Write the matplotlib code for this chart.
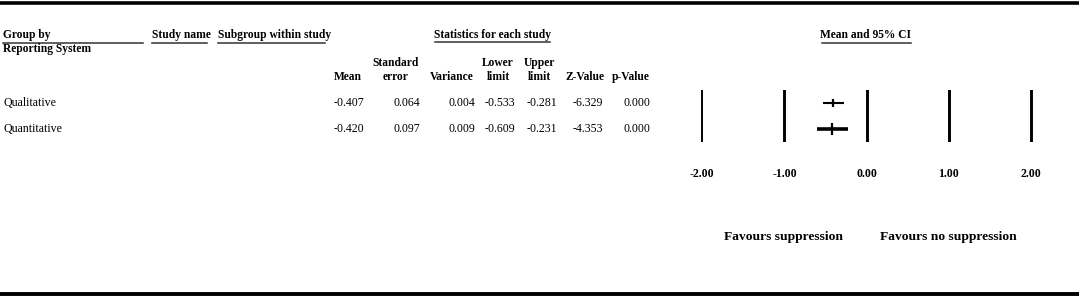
import matplotlib.pyplot as plt

plt.rcParams['font.family'] = ['Liberation Serif', 'DejaVu Serif']

# data
groups = ['Qualitative', 'Quantitative']
means = [-0.407, -0.420]
std_err = [0.064, 0.097]
variance = [0.004, 0.009]
lower = [-0.533, -0.609]
upper = [-0.281, -0.231]
z_vals = [-6.329, -4.353]
p_vals = [0.000, 0.000]
col_heads = ['Mean', 'Standard\nerror', 'Variance', 'Lower\nlimit', 'Upper\nlimit', 'Z-Value', 'p-Value']
ticks = [-2, -1, 0, 1, 2]
tick_labels = ['-2.00', '-1.00', '0.00', '1.00', '2.00']

W, H = 1079, 296
fig = plt.figure(figsize=(W / 100, H / 100), dpi=100)

# full-figure axes in pixel coords for the table part
ax = fig.add_axes([0, 0, 1, 1])
ax.set_xlim(0, W)
ax.set_ylim(H, 0)
ax.axis('off')

ax.plot([0, W], [2.5, 2.5], color='black', lw=2.6, solid_capstyle='butt')
ax.plot([0, W], [293.5, 293.5], color='black', lw=2.8, solid_capstyle='butt')

fs = 8.3
hdr = dict(fontsize=fs, fontweight='bold', va='center', color='black')

ax.text(3, 35, 'Group by', ha='left', **hdr)
ax.text(3, 49, 'Reporting System', ha='left', **hdr)
ax.text(152, 35, 'Study name', ha='left', **hdr)
ax.text(218, 35, 'Subgroup within study', ha='left', **hdr)
ax.text(492.5, 35, 'Statistics for each study', ha='center', **hdr)
ax.text(866, 35, 'Mean and 95% CI', ha='center', **hdr)

ul = dict(color='#333333', lw=1.1)
ax.plot([3, 143], [42.5, 42.5], **ul)
ax.plot([152, 207], [42.5, 42.5], **ul)
ax.plot([218, 325], [42.5, 42.5], **ul)
ax.plot([435, 550], [41.5, 41.5], **ul)
ax.plot([822, 911], [42.5, 42.5], **ul)

# column headers: single-line ones right-aligned, two-line ones centred
head_x = [362, 396, 474, 498, 539, 605, 650]
val_right = [364, 420, 475, 515, 557, 603, 650]
for xh, h in zip(head_x, col_heads):
    parts = h.split('\n')
    ha = 'center' if len(parts) > 1 else 'right'
    for k, p in enumerate(parts):
        y = 77 - 14 * (len(parts) - 1 - k)
        ax.text(xh, y, p, ha=ha, va='center', fontsize=fs, fontweight='bold')

row_y = [102.5, 128.5]
cols = [means, std_err, variance, lower, upper, z_vals, p_vals]
for i, g in enumerate(groups):
    ax.text(3, row_y[i], g, ha='left', va='center', fontsize=fs + 0.3)
    for xr, c in zip(val_right, cols):
        ax.text(xr, row_y[i], '%.3f' % c[i], ha='right', va='center', fontsize=fs + 0.3)

# forest plot axes
px_unit = 82.25
x0 = 866.7
fl, fr = -2.2, 2.2
left_px = x0 + fl * px_unit
axf = fig.add_axes([left_px / W, (H - 141.5) / H, (fr - fl) * px_unit / W, 52 / H])
axf.set_xlim(fl, fr)
axf.set_ylim(1.5, -0.5)
for s in axf.spines.values():
    s.set_visible(False)
axf.set_yticks([])
axf.set_xticks(ticks)
axf.set_xticklabels(tick_labels, fontsize=fs + 0.3, fontweight='bold')
axf.tick_params(axis='x', length=0, pad=19)
axf.patch.set_alpha(0)

for t in ticks:
    axf.axvline(t, color='black', lw=1.4 if t == -2 else 2.1)

ci_lw = [1.5, 2.6]
mk_size = [6, 8]
for i in range(len(groups)):
    axf.plot([lower[i], upper[i]], [i, i], color='black', lw=ci_lw[i], solid_capstyle='butt')
    axf.plot([means[i]], [i], marker='|', ms=mk_size[i], mew=1.6, color='black')

fig.text(783.5 / W, 1 - 237 / H, 'Favours suppression', ha='center', va='center',
         fontsize=9.7, fontweight='bold')
fig.text(948.5 / W, 1 - 237 / H, 'Favours no suppression', ha='center', va='center',
         fontsize=9.7, fontweight='bold')

fig.savefig('out.png', dpi=100)
